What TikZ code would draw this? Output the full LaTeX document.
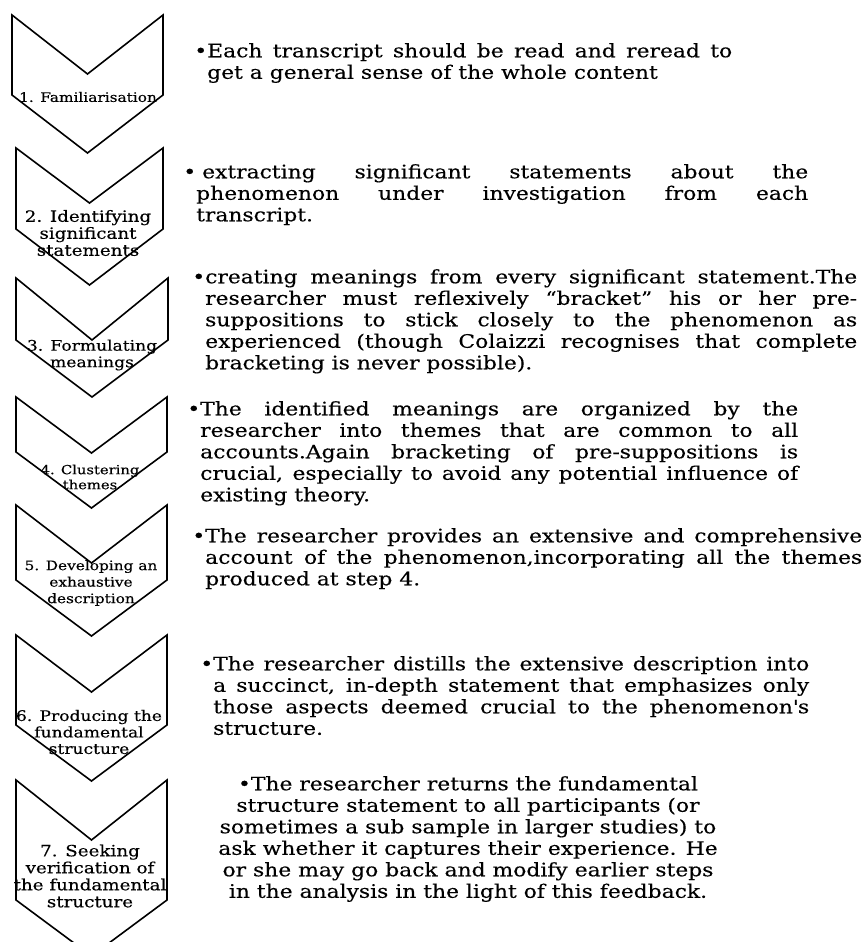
\documentclass[tikz,border=0pt]{standalone}
\usepackage{fontspec}
\setmainfont{DejaVu Serif}[FakeStretch=1.18,FakeBold=0.3]
\newcommand{\bul}{\llap{\textbullet}}

\begin{document}
\begin{tikzpicture}[x=1pt,y=-1pt]
    \tikzstyle{chev}=[draw,line width=1.6pt,line join=miter]  % outline of each step arrow
    \tikzstyle{stepname}=[align=center,inner sep=0pt,font=\fontsize{15}{16.5}\selectfont]  % text inside the arrows
    \tikzstyle{desc}=[align=justify,inner sep=0pt,anchor=north west,font=\fontsize{18.5}{21.5}\selectfont]  % text on the right

    \useasboundingbox (0,0) rectangle (864,942);
    \clip (0,0) rectangle (864,942);

    % the seven arrows: left/right/top/notch/side bottom/tip
    \foreach \l/\r/\t/\n/\s/\b in {12/163/15/74/95/153, 16/163/148/203/229/285,
        16/168/278/340/340/397, 16/167/397/453/452/508, 16/167/505/563/580/636,
        16/167/635/692/725/781, 16/167/780/840/900/956}
      \draw[chev] (\l,\t) -- ({(\l+\r)/2},\n) -- (\r,\t) -- (\r,\s)
        -- ({(\l+\r)/2},\b) -- (\l,\s) -- cycle;

    % step names
    \node[stepname,font=\fontsize{13}{15}\selectfont](s1) at (88,97){1. Familiarisation};
    \node[stepname,font=\fontsize{15.5}{17}\selectfont](s2) at (88,233){2. Identifying\\significant\\statements};
    \node[stepname,font=\fontsize{14.5}{16.5}\selectfont](s3) at (92,355){3. Formulating\\meanings};
    \node[stepname,font=\fontsize{12.5}{15}\selectfont](s4) at (90,477){4. Clustering\\themes};
    \node[stepname,font=\fontsize{13}{16.5}\selectfont](s5) at (91,583){5. Developing an\\exhaustive\\description};
    \node[stepname,font=\fontsize{14.5}{16.5}\selectfont](s6) at (89,732){6. Producing the\\fundamental\\structure};
    \node[stepname,font=\fontsize{15.5}{17}\selectfont](s7) at (90,876){7. Seeking\\verification of\\the fundamental\\structure};

    % descriptions
    \node[desc,text width=525](d1) at (207,43){\bul Each transcript should be read and reread to\linebreak
        get a general sense of the whole content};
    \node[desc,text width=612](d2) at (196,164){\bul\kern6pt extracting significant statements about the\linebreak
        phenomenon under investigation from each\linebreak transcript.};
    \node[desc,text width=652](d3) at (205,269){\bul creating meanings from every significant statement.The\linebreak
        researcher must reflexively “bracket” his or her pre-\linebreak
        suppositions to stick closely to the phenomenon as\linebreak
        experienced (though Colaizzi recognises that complete\linebreak
        bracketing is never possible).};
    \node[desc,text width=598](d4) at (200,401){\bul The identified meanings are organized by the\linebreak
        researcher into themes that are common to all\linebreak
        accounts.Again bracketing of pre-suppositions is\linebreak
        crucial, especially to avoid any potential influence of\linebreak
        existing theory.};
    \node[desc,text width=657](d5) at (205,528){\bul The researcher provides an extensive and comprehensive\linebreak
        account of the phenomenon,incorporating all the themes\linebreak
        produced at step 4.};
    \node[desc,text width=596](d6) at (213,656){\bul The researcher distills the extensive description into\linebreak
        a succinct, in-depth statement that emphasizes only\linebreak
        those aspects deemed crucial to the phenomenon\textquotesingle s\linebreak structure.};
    \node[desc,align=center,anchor=north](d7) at (468,776){\textbullet The researcher returns the fundamental\\
        structure statement to all participants (or\\
        sometimes a sub sample in larger studies) to\\
        ask whether it captures their experience. He\\
        or she may go back and modify earlier steps\\
        in the analysis in the light of this feedback.};
\end{tikzpicture}
\end{document}
